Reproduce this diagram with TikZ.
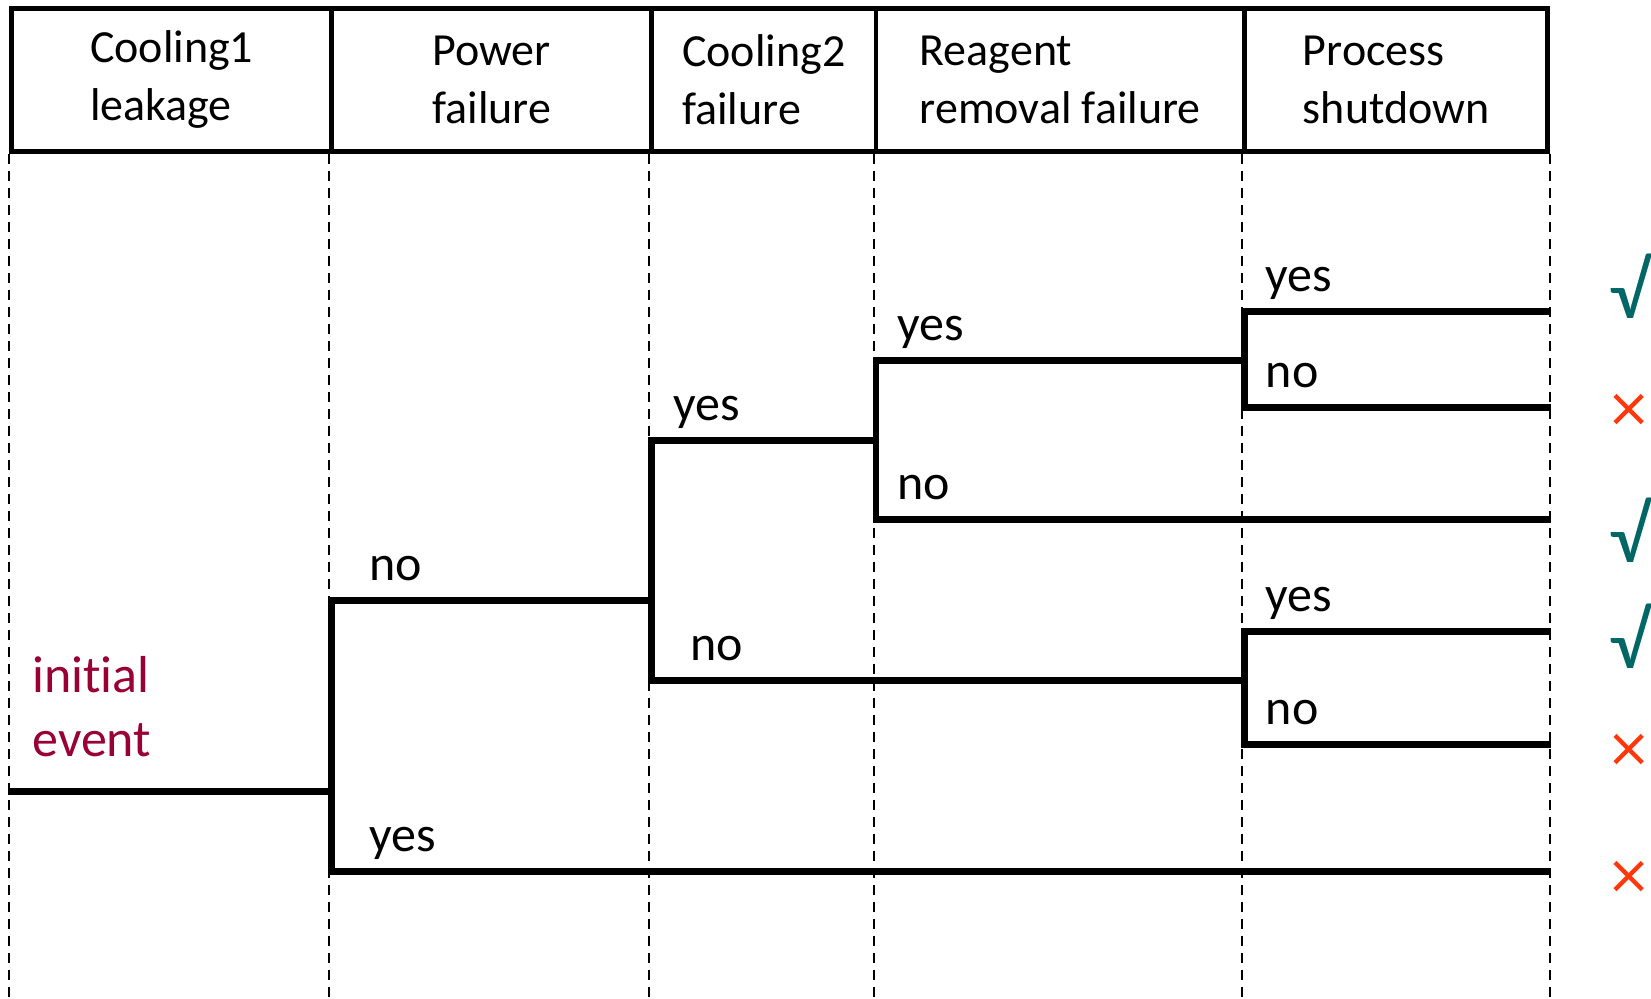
\documentclass[tikz,border=0pt]{standalone}
\usepackage{fontspec}
\setmainfont{Carlito}[Ligatures=NoCommon]
\newfontfamily\markfont{DejaVu Sans}
\usetikzlibrary{positioning}

\definecolor{eventred}{RGB}{153,0,51}
\definecolor{okteal}{RGB}{0,102,102}
\definecolor{failred}{RGB}{255,55,10}

\begin{document}
\begin{tikzpicture}[
  x=0.5pt, y=-0.5pt,
  cell/.style={draw, line width=2.4pt, rectangle, minimum height=71.6pt, align=left, inner sep=0pt,
    font=\fontsize{23}{29}\selectfont},
  guide/.style={dashed, line width=0.9pt, dash pattern=on 5pt off 3.5pt},
  branch/.style={line width=3.4pt, line cap=rect},
  lbl/.style={anchor=base west, inner sep=0pt, font=\fontsize{25}{30}\selectfont},
  okmark/.style={anchor=east, inner sep=0pt, text=okteal, font=\fontsize{40}{40}\selectfont},
  failmark/.style={inner sep=0pt, text=failred, font=\markfont\fontsize{27}{27}\selectfont}
]
\useasboundingbox (0,0) rectangle (1651,998);

% Header cells left to right
\node[cell, minimum width=160.05pt] (cool1) at (171.65,79.8) {Cooling1\\leakage};
\node[cell, minimum width=160pt] (power) at (491.7,79.8) {Power\\failure};
\node[cell, minimum width=112.15pt] (cool2) at (763.85,79.8) {Cooling2\\failure};
\node[cell, minimum width=184.25pt] (reagent) at (1060.25,79.8) {Reagent\\removal failure};
\node[cell, minimum width=151.65pt] (shut) at (1396.15,79.8) {Process\\shutdown};

% Dashed guides
\coordinate (bot) at (0,998);
\draw[guide] (cool1.south west) -- (cool1.south west |- bot);
\draw[guide] (power.south west) -- (power.south west |- bot);
\draw[guide] (cool2.south west) -- (cool2.south west |- bot);
\draw[guide] (reagent.south west) -- (reagent.south west |- bot);
\draw[guide] (shut.south west) -- (shut.south west |- bot);
\draw[guide] (shut.south east) -- (shut.south east |- bot);

% Branch points
\coordinate (start) at (11.6,791.8);
\coordinate (pf) at (331.7,791.8);
\coordinate (pfno) at (331.7,600.2);
\coordinate (pfyes) at (331.7,871.8);
\coordinate (cf) at (651.7,600.2);
\coordinate (cfyes) at (651.7,440.1);
\coordinate (cfno) at (651.7,680.2);
\coordinate (rf) at (876,440.1);
\coordinate (rfyes) at (876,360.1);
\coordinate (rfno) at (876,519.1);
\coordinate (ps1) at (1244.5,360.1);
\coordinate (ps1yes) at (1244.5,311.7);
\coordinate (ps1no) at (1244.5,407.5);
\coordinate (ps2) at (1244.5,680.2);
\coordinate (ps2yes) at (1244.5,631.7);
\coordinate (ps2no) at (1244.5,744.4);
\coordinate (endx) at (1547.8,0);

% Tree
\draw[branch] (start) -- (pf);
\draw[branch] (cf) -- (pfno) -- (pfyes) -- (pfyes -| endx);
\draw[branch] (rf) -- (cfyes) -- (cfno) -- (ps2);
\draw[branch] (ps1) -- (rfyes) -- (rfno) -- (rfno -| endx);
\draw[branch] (ps1yes -| endx) -- (ps1yes) -- (ps1no) -- (ps1no -| endx);
\draw[branch] (ps2yes -| endx) -- (ps2yes) -- (ps2no) -- (ps2no -| endx);

% Labels
\node[lbl] (l1) at ([shift={(37,-20)}]pfno) {no};
\node[lbl] (l2) at ([shift={(37,-20)}]pfyes) {yes};
\node[lbl] (l3) at ([shift={(21,-20)}]cfyes) {yes};
\node[lbl] (l4) at ([shift={(38,-20)}]cfno) {no};
\node[lbl] (l5) at ([shift={(21,-20)}]rfyes) {yes};
\node[lbl] (l6) at ([shift={(21,-20)}]rfno) {no};
\node[lbl] (l7) at ([shift={(21,-20)}]ps1yes) {yes};
\node[lbl] (l8) at ([shift={(21,-20)}]ps1no) {no};
\node[lbl] (l9) at ([shift={(21,-20)}]ps2yes) {yes};
\node[lbl] (l10) at ([shift={(21,-20)}]ps2no) {no};

\node[anchor=north west, align=left, inner sep=0pt, text=eventred,
  font=\fontsize{26}{32}\selectfont] (init) at (32,656) {initial\\event};

% Outcome marks
\node[okmark] (m1) at (1650,286) {√};
\node[failmark] (m2) at (1629,410) {×};
\node[okmark] (m3) at (1650,530) {√};
\node[okmark] (m4) at (1650,636) {√};
\node[failmark] (m5) at (1629,750) {×};
\node[failmark] (m6) at (1629,877) {×};

\end{tikzpicture}
\end{document}
